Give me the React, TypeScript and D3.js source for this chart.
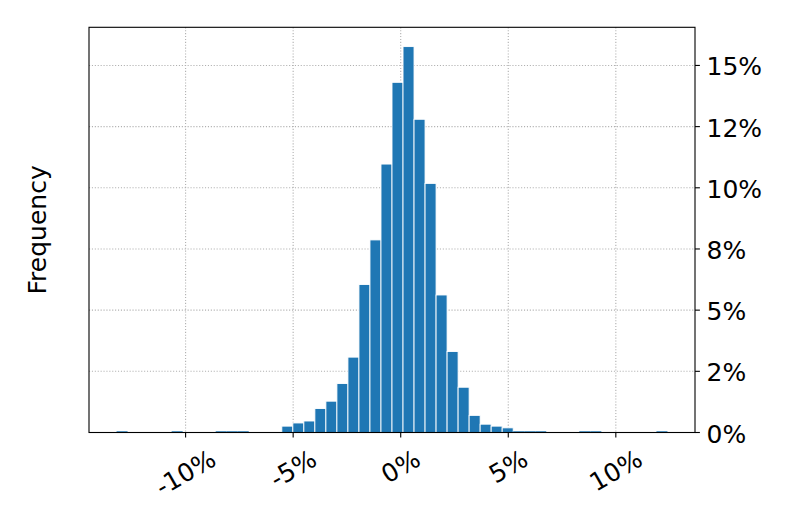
import React, { useEffect, useRef } from 'react'
import * as d3 from 'd3'

// outer edges of the 50 histogram bins (return, %)
const binLow = -13.21
const binHigh = 12.40
// share of observations per bin (%)
const freq = [
  0.05, 0, 0, 0, 0, 0.05, 0, 0, 0, 0.05,
  0.05, 0.05, 0, 0, 0, 0.26, 0.39, 0.47, 0.98, 1.28,
  2.00, 3.08, 6.05, 7.87, 10.97, 14.31, 15.77, 12.80, 10.18, 5.62,
  3.31, 1.85, 0.70, 0.34, 0.26, 0.19, 0.05, 0.05, 0.05, 0,
  0, 0, 0.05, 0.05, 0, 0, 0, 0, 0, 0.05,
]
const xTicks = [-10, -5, 0, 5, 10]
const xTickLabels = ['-10%', '-5%', '0%', '5%', '10%']
const yTicks = [0, 2.5, 5, 7.5, 10, 12.5, 15]
const yTickLabels = ['0%', '2%', '5%', '8%', '10%', '12%', '15%']

const W = 793
const H = 529
const box = { left: 89, right: 695, top: 27.3, bottom: 432.5 }
const font = 'DejaVu Sans, sans-serif'
const fs = 25

export default function App() {
  const ref = useRef<SVGSVGElement>(null)

  useEffect(() => {
    const svg = d3.select(ref.current)
    svg.selectAll('*').remove()

    const n = freq.length
    const step = (binHigh - binLow) / n
    const edges = d3.range(n + 1).map(i => binLow + i * step)
    const span = binHigh - binLow

    const x = d3.scaleLinear()
      .domain([binLow - 0.05 * span, binHigh + 0.05 * span])
      .range([box.left, box.right])
    const y = d3.scaleLinear()
      .domain([0, (d3.max(freq) as number) * 1.05])
      .range([box.bottom, box.top])

    svg.append('rect')
      .attr('width', W).attr('height', H).attr('fill', '#fff')

    // grid sits under the bars
    const grid = svg.append('g')
      .attr('stroke', '#b0b0b0')
      .attr('stroke-width', 1.1)
      .attr('stroke-dasharray', '1.1,1.8')
    grid.selectAll('line.gx')
      .data(xTicks)
      .enter().append('line')
      .attr('x1', d => x(d)).attr('x2', d => x(d))
      .attr('y1', box.top).attr('y2', box.bottom)
    grid.selectAll('line.gy')
      .data(yTicks.slice(1))
      .enter().append('line')
      .attr('x1', box.left).attr('x2', box.right)
      .attr('y1', d => y(d)).attr('y2', d => y(d))

    svg.append('g')
      .selectAll('rect')
      .data(freq)
      .enter().append('rect')
      .attr('x', (d, i) => x(edges[i]))
      .attr('width', (d, i) => x(edges[i + 1]) - x(edges[i]))
      .attr('y', d => y(d))
      .attr('height', d => y(0) - y(d))
      .attr('fill', '#1f77b4')
      .attr('stroke', '#fff')
      .attr('stroke-width', d => (d > 0.1 ? 0.9 : 0))

    // spines
    svg.append('rect')
      .attr('x', box.left).attr('y', box.top)
      .attr('width', box.right - box.left)
      .attr('height', box.bottom - box.top)
      .attr('fill', 'none')
      .attr('stroke', '#000')
      .attr('stroke-width', 1.1)

    const tickLen = 4.9

    // x ticks and rotated labels (top of the rotated box hangs below the tick)
    const xt = svg.append('g').selectAll('g')
      .data(xTicks)
      .enter().append('g')
    xt.append('line')
      .attr('x1', d => x(d)).attr('x2', d => x(d))
      .attr('y1', box.bottom).attr('y2', box.bottom + tickLen)
      .attr('stroke', '#000').attr('stroke-width', 1.1)
    xt.append('text')
      .text((d, i) => xTickLabels[i])
      .attr('font-family', font)
      .attr('font-size', fs)
      .attr('text-anchor', 'middle')
      .attr('dy', '0.346em')
      .each(function (d) {
        const len = (this as SVGTextElement).getComputedTextLength()
        const hgt = len * 0.5 + 1.164 * fs * 0.866
        const cy = 444 + hgt / 2
        d3.select(this).attr('transform', `translate(${x(d)},${cy}) rotate(-30)`)
      })

    // y ticks on the right side
    const yt = svg.append('g').selectAll('g')
      .data(yTicks)
      .enter().append('g')
    yt.append('line')
      .attr('x1', box.right).attr('x2', box.right + tickLen)
      .attr('y1', d => y(d)).attr('y2', d => y(d))
      .attr('stroke', '#000').attr('stroke-width', 1.1)
    yt.append('text')
      .text((d, i) => yTickLabels[i])
      .attr('x', box.right + 11.5)
      .attr('y', d => y(d))
      .attr('dy', '0.4em')
      .attr('font-family', font)
      .attr('font-size', fs)

    svg.append('text')
      .text('Frequency')
      .attr('transform', `translate(46,${(box.top + box.bottom) / 2}) rotate(-90)`)
      .attr('text-anchor', 'middle')
      .attr('font-family', font)
      .attr('font-size', fs)
  }, [])

  return (
    <svg
      ref={ref}
      width={W}
      height={H}
      style={{ position: 'absolute', left: 0, top: 0, display: 'block' }}
    />
  )
}
